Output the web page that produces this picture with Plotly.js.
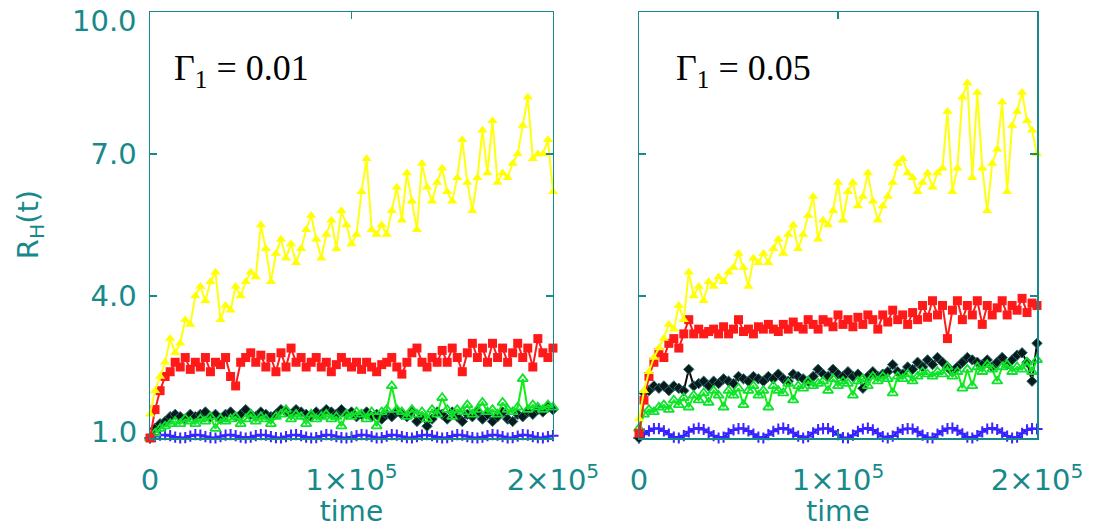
<!DOCTYPE html>
<html>
<head>
<meta charset="utf-8">
<script src="https://cdn.plot.ly/plotly-3.0.1.min.js"></script>
<style>html,body{margin:0;padding:0;background:#fff;}#chart{width:1093px;height:528px;}</style>
</head>
<body>
<div id="chart"></div>
<script>
var time = [0,2500,5000,7500,10000,12500,15000,17500,20000,22500,25000,27500,30000,32500,35000,37500,40000,42500,45000,47500,50000,52500,55000,57500,60000,62500,65000,67500,70000,72500,75000,77500,80000,82500,85000,87500,90000,92500,95000,97500,100000,102500,105000,107500,110000,112500,115000,117500,120000,122500,125000,127500,130000,132500,135000,137500,140000,142500,145000,147500,150000,152500,155000,157500,160000,162500,165000,167500,170000,172500,175000,177500,180000,182500,185000,187500,190000,192500,195000,197500,200000];

// Gamma_1 = 0.01 (left panel)
var left_yellow = [1.5,2.0,2.3,2.6,3.1,2.8,3.0,3.5,3.4,4.0,4.2,3.9,4.3,4.5,3.5,3.8,3.7,4.2,4.0,4.3,4.5,4.4,5.5,5.0,4.3,4.9,5.2,4.8,5.1,4.7,5.0,5.4,5.7,5.2,4.8,5.3,5.6,5.0,5.8,5.5,5.1,5.3,6.2,6.9,5.4,5.3,5.5,5.3,5.8,6.3,5.6,6.6,6.0,5.4,6.8,6.3,6.0,6.4,6.7,6.2,6.0,6.5,7.3,6.4,5.8,6.5,7.5,6.6,7.7,6.4,6.6,6.5,6.8,7.0,7.6,8.2,6.9,7.0,7.0,7.3,6.2];
var left_red = [1.0,1.6,2.0,2.3,2.4,2.6,2.5,2.7,2.45,2.6,2.5,2.7,2.4,2.6,2.55,2.7,2.3,2.1,2.6,2.7,2.8,2.6,2.75,2.5,2.7,2.4,2.8,2.5,2.9,2.6,2.7,2.5,2.6,2.7,2.5,2.6,2.4,2.55,2.7,2.6,2.5,2.6,2.45,2.6,2.5,2.4,2.55,2.6,2.7,2.5,2.35,2.6,2.8,2.9,2.6,2.5,2.7,2.6,2.85,2.6,2.9,2.7,2.4,2.8,3.0,2.7,2.9,2.6,3.0,2.7,2.9,2.6,2.8,3.0,2.7,2.9,2.5,3.1,2.8,2.7,2.9];
var left_black = [1.0,1.2,1.3,1.35,1.45,1.5,1.45,1.4,1.5,1.45,1.5,1.55,1.45,1.5,1.4,1.5,1.55,1.45,1.5,1.6,1.5,1.45,1.55,1.5,1.45,1.5,1.6,1.55,1.5,1.6,1.55,1.5,1.45,1.55,1.5,1.6,1.55,1.5,1.6,1.5,1.55,1.45,1.5,1.55,1.45,1.5,1.4,1.5,1.45,1.55,1.5,1.45,1.55,1.35,1.45,1.25,1.4,1.55,1.5,1.4,1.55,1.45,1.35,1.5,1.45,1.55,1.4,1.5,1.35,1.45,1.55,1.4,1.35,1.5,1.45,1.55,1.5,1.6,1.55,1.65,1.6];
var left_green = [1.0,1.1,1.2,1.25,1.3,1.35,1.3,1.4,1.35,1.3,1.4,1.35,1.45,1.2,1.4,1.35,1.4,1.45,1.3,1.4,1.5,1.35,1.45,1.4,1.3,1.45,1.5,1.6,1.4,1.5,1.45,1.3,1.5,1.4,1.45,1.5,1.4,1.45,1.25,1.5,1.45,1.55,1.5,1.4,1.55,1.25,1.55,1.6,2.1,1.6,1.55,1.45,1.6,1.5,1.55,1.4,1.6,1.5,1.85,1.6,1.45,1.6,1.55,1.7,1.5,1.6,1.75,1.55,1.6,1.5,1.75,1.6,1.55,1.65,2.25,1.6,1.7,1.65,1.6,1.7,1.65];
var left_blue = [1.0,1.03,1.06,1.07,1.05,1.02,1.0,1.01,1.04,1.07,1.06,1.03,1.01,1.0,1.03,1.06,1.07,1.05,1.02,1.0,1.02,1.05,1.07,1.06,1.03,1.01,1.0,1.03,1.06,1.07,1.05,1.02,1.0,1.01,1.04,1.07,1.06,1.03,1.01,1.0,1.02,1.05,1.07,1.06,1.03,1.0,1.01,1.04,1.07,1.06,1.03,1.01,1.0,1.03,1.06,1.07,1.05,1.02,1.0,1.01,1.04,1.07,1.06,1.03,1.01,1.0,1.02,1.05,1.07,1.06,1.03,1.0,1.01,1.04,1.07,1.06,1.03,1.01,1.0,1.03,1.05];

// Gamma_1 = 0.05 (right panel)
var right_yellow = [1.4,2.0,2.4,2.7,2.9,3.1,3.4,3.3,3.8,3.5,4.5,4.0,4.2,3.9,4.3,4.2,4.4,4.3,4.5,4.6,4.9,4.6,4.2,4.8,4.7,4.9,4.7,5.0,5.2,4.9,5.3,5.5,5.0,5.3,5.7,6.1,5.2,5.6,5.5,5.8,6.4,5.6,6.2,6.4,5.9,6.1,6.6,6.0,5.6,5.9,6.1,6.4,6.8,6.9,6.6,6.5,6.2,6.4,6.6,6.3,6.6,6.7,7.9,6.2,6.7,8.2,8.5,6.5,8.3,6.7,5.8,6.8,7.1,8.1,6.2,7.6,7.9,8.3,7.7,7.5,7.0];
var right_red = [1.1,1.8,2.3,2.6,2.8,2.7,3.0,3.1,2.9,3.2,3.5,3.2,3.3,3.2,3.25,3.3,3.2,3.35,3.2,3.3,3.5,3.25,3.3,3.2,3.35,3.3,3.4,3.3,3.25,3.4,3.3,3.45,3.35,3.3,3.5,3.4,3.3,3.5,3.45,3.35,3.6,3.4,3.5,3.35,3.55,3.4,3.6,3.5,3.3,3.6,3.45,3.7,3.5,3.6,3.4,3.65,3.5,3.8,3.55,3.9,3.6,3.8,3.1,3.7,3.9,3.5,3.8,3.6,3.9,3.4,3.8,3.6,3.75,3.9,3.6,3.8,3.7,3.95,3.65,3.85,3.8];
var right_black = [1.0,1.95,2.0,2.1,2.05,2.1,2.0,2.1,2.05,2.0,2.45,2.1,2.15,2.2,2.1,2.2,2.15,2.25,2.2,2.15,2.3,2.25,2.2,2.3,2.25,2.2,2.3,2.25,2.35,2.25,2.2,2.35,2.3,2.25,2.2,2.3,2.45,2.35,2.3,2.45,2.35,2.3,2.4,2.3,2.35,2.05,2.3,2.4,2.3,2.35,2.4,2.55,2.4,2.35,2.5,2.45,2.6,2.5,2.65,2.55,2.7,2.6,2.5,2.4,2.5,2.6,2.7,2.65,2.6,2.55,2.65,2.5,2.6,2.7,2.55,2.65,2.75,2.8,2.6,2.2,3.0];
var right_green = [1.2,1.5,1.6,1.55,1.65,1.7,1.6,1.8,1.7,1.85,1.65,1.9,1.8,1.95,1.75,2.0,1.9,1.65,2.0,1.9,2.05,1.7,2.0,2.1,1.9,2.0,1.65,2.1,2.0,1.95,2.15,1.8,2.1,2.05,2.2,2.1,2.15,2.2,2.0,2.25,2.1,2.2,2.15,1.9,2.2,2.25,2.1,2.3,2.2,2.3,2.25,1.95,2.3,2.25,2.35,2.2,2.3,2.4,2.35,2.3,2.4,2.35,2.5,2.3,2.4,2.05,2.45,2.1,2.5,2.4,2.55,2.45,2.2,2.5,2.55,2.4,2.5,2.45,2.6,2.4,2.65];
var right_blue = [1.0,1.08,1.15,1.2,1.2,1.15,1.08,1.02,1.0,1.05,1.13,1.19,1.21,1.18,1.12,1.05,1.0,1.02,1.1,1.17,1.2,1.2,1.15,1.08,1.02,1.0,1.07,1.14,1.19,1.21,1.18,1.11,1.04,1.0,1.03,1.11,1.18,1.2,1.2,1.14,1.07,1.01,1.0,1.06,1.14,1.19,1.21,1.17,1.1,1.03,1.0,1.04,1.12,1.18,1.2,1.19,1.13,1.06,1.01,1.0,1.08,1.15,1.2,1.21,1.16,1.09,1.02,1.0,1.05,1.13,1.19,1.21,1.18,1.11,1.04,1.0,1.02,1.1,1.17,1.2,1.19];

var xTickVals = [0, 100000, 200000];
var xTickText = ['0', '1×10<sup>5</sup>', '2×10<sup>5</sup>'];
var yTickVals = [4, 7];
var yTickText = ['4.0', '7.0'];
var yEdgeVals = [1, 10];
var yEdgeText = ['1.0', '10.0'];
var panelLabels = ['Γ<sub>1</sub> = 0.01', 'Γ<sub>1</sub> = 0.05'];

var TEAL = '#17898b';
var styles = {
  blue:   {line: '#1414ff', marker: {symbol: 'cross-thin-open', size: 8, color: '#3a24ff', line: {width: 2, color: '#3a24ff'}}},
  black:  {line: '#0a0a0a', marker: {symbol: 'diamond', size: 8, color: '#0a1a1a', line: {width: 1, color: '#2a7070'}}},
  green:  {line: '#10f010', marker: {symbol: 'triangle-up-open', size: 9, color: '#10e030', line: {width: 1.8, color: '#10e030'}}},
  red:    {line: '#ff1a1a', marker: {symbol: 'square', size: 9, color: '#ff1a1a'}},
  yellow: {line: '#ffff10', marker: {symbol: 'triangle-up', size: 9, color: '#ffff00'}}
};

function mk(y, key, xa, ya) {
  var s = styles[key];
  return {x: time, y: y, xaxis: xa, yaxis: ya, type: 'scatter', mode: 'lines+markers',
    line: {color: s.line, width: 2}, marker: s.marker, cliponaxis: false, showlegend: false, hoverinfo: 'skip'};
}

var data = [
  mk(left_blue, 'blue', 'x', 'y'), mk(left_black, 'black', 'x', 'y'), mk(left_green, 'green', 'x', 'y'),
  mk(left_red, 'red', 'x', 'y'), mk(left_yellow, 'yellow', 'x', 'y'),
  mk(right_blue, 'blue', 'x2', 'y2'), mk(right_black, 'black', 'x2', 'y2'), mk(right_green, 'green', 'x2', 'y2'),
  mk(right_red, 'red', 'x2', 'y2'), mk(right_yellow, 'yellow', 'x2', 'y2')
];

var tickFont = {family: 'DejaVu Sans', size: 29, color: TEAL};
function xax(domain) {
  return {domain: domain, range: [0, 200000], tickvals: xTickVals, ticktext: xTickText,
    ticks: 'inside', ticklen: 7, tickwidth: 1.5, tickcolor: TEAL, showline: true, linecolor: TEAL, linewidth: 1.5,
    mirror: 'ticks', showgrid: false, zeroline: false, tickfont: tickFont, ticklabelstandoff: 16,
    title: {text: 'time', font: {family: 'DejaVu Sans', size: 28, color: TEAL}, standoff: 10}};
}
function yax(anchor, showLabels) {
  return {domain: [0, 1], range: [1, 10], anchor: anchor, tickvals: yTickVals, ticktext: yTickText,
    showticklabels: showLabels, ticks: 'inside', ticklen: 7, tickwidth: 1.5, tickcolor: TEAL,
    showline: true, linecolor: TEAL, linewidth: 1.5, mirror: 'ticks', showgrid: false, zeroline: false,
    tickfont: tickFont, ticklabelstandoff: 6};
}

var annotations = [
  {text: panelLabels[0], xref: 'paper', yref: 'paper', x: 0.0248, y: 0.862, xanchor: 'left', yanchor: 'middle', showarrow: false,
   font: {family: 'Liberation Serif', size: 36, color: '#000000'}},
  {text: panelLabels[1], xref: 'paper', yref: 'paper', x: 0.5907, y: 0.862, xanchor: 'left', yanchor: 'middle', showarrow: false,
   font: {family: 'Liberation Serif', size: 36, color: '#000000'}},
  {text: 'R<sub>H</sub>(t)', xref: 'paper', yref: 'paper', x: -0.135, y: 0.50, xanchor: 'center', yanchor: 'middle',
   textangle: -90, showarrow: false, font: {family: 'DejaVu Sans', size: 29, color: TEAL}}
];
// edge tick labels (1.0 and 10.0), nudged inward as in the original figure
for (var k = 0; k < yEdgeVals.length; k++) {
  annotations.push({text: yEdgeText[k], xref: 'paper', yref: 'y', x: 0, y: yEdgeVals[k],
    xanchor: 'right', yanchor: 'middle', xshift: -11, yshift: (k === 0 ? 6 : -9), showarrow: false,
    font: tickFont});
}

var layout = {
  width: 1093, height: 528,
  margin: {l: 150, r: 56, t: 12, b: 90},
  paper_bgcolor: '#ffffff', plot_bgcolor: '#ffffff',
  showlegend: false,
  xaxis: xax([0, 0.4543]),
  xaxis2: xax([0.5513, 1]),
  yaxis: yax('x', true),
  yaxis2: yax('x2', false),
  annotations: annotations
};

Plotly.newPlot('chart', data, layout, {displayModeBar: false, staticPlot: true});
</script>
</body>
</html>
